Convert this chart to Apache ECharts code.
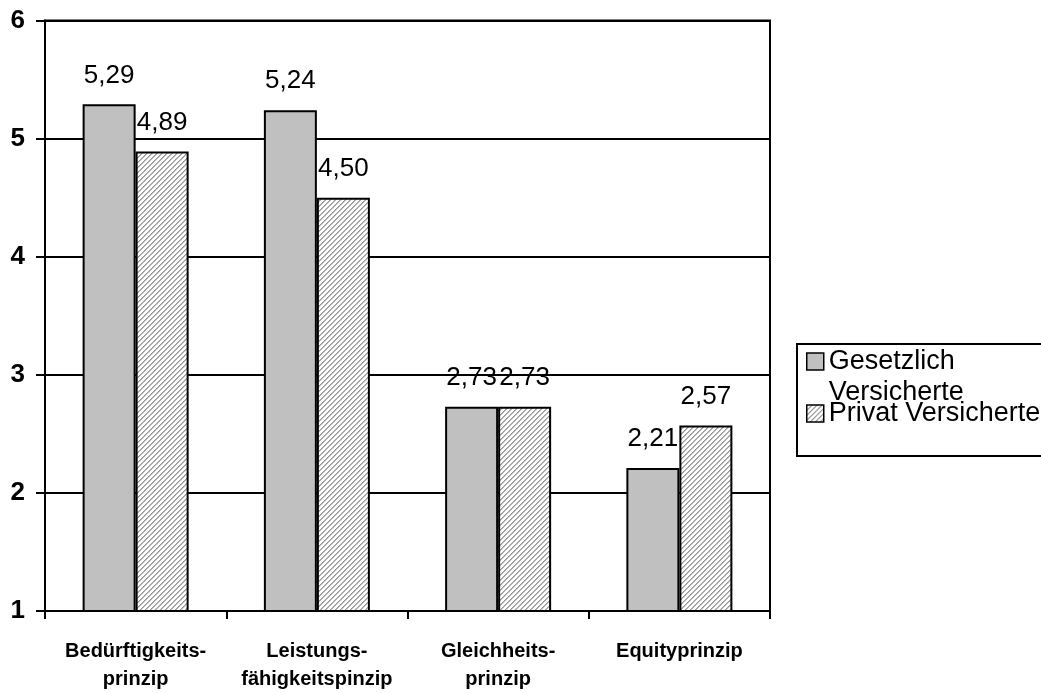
<!DOCTYPE html>
<html>
<head>
<meta charset="utf-8">
<script src="https://cdn.jsdelivr.net/npm/echarts@6/dist/echarts.min.js"></script>
<style>
  html, body { margin: 0; padding: 0; background: #fff; }
  #chart { width: 1041px; height: 693px; }
</style>
</head>
<body>
<div id="chart"></div>
<script>
// data
const categories = ['Bedürftigkeits-\nprinzip', 'Leistungs-\nfähigkeitspinzip', 'Gleichheits-\nprinzip', 'Equityprinzip']
const gesetzlich = [5.29, 5.24, 2.73, 2.21]
const privat = [4.89, 4.50, 2.73, 2.57]
const yTicks = { min: 1, max: 6, interval: 1 }

const FONT = '"Liberation Sans", Arial, sans-serif'

// diagonal hatch for the second series
const makeHatch = () => {
  const n = 5
  const c = document.createElement('canvas')
  c.width = n
  c.height = n
  const ctx = c.getContext('2d')
  ctx.fillStyle = '#ffffff'
  ctx.fillRect(0, 0, n, n)
  for (let i = 0; i < n; i++) {
    ctx.fillStyle = '#9a9a9a'
    ctx.fillRect(n - 1 - i, i, 1, 1)
    ctx.fillStyle = '#b8b8b8'
    ctx.fillRect((n - i) % n, i, 1, 1)
  }
  return c
}
const hatch = { image: makeHatch(), repeat: 'repeat' }

const fmt = p => p.value.toFixed(2).replace('.', ',')

const valueLabel = {
  show: true,
  position: 'top',
  distance: 16,
  color: '#000',
  fontFamily: FONT,
  fontSize: 26,
  formatter: fmt
}

const chart = echarts.init(document.getElementById('chart'))

chart.setOption({
  backgroundColor: '#fff',
  animation: false,
  grid: {
    left: 45,
    right: 271,
    top: 20.5,
    bottom: 80,
    show: true,
    borderColor: '#000',
    borderWidth: 2,
    backgroundColor: 'transparent'
  },
  legend: [
    {
      orient: 'vertical',
      left: 806,
      top: 315,
      padding: 0,
      icon: 'rect',
      itemWidth: 17,
      itemHeight: 17,
      data: ['Gesetzlich Versicherte'],
      // leading blank line keeps the first text line level with the icon
      formatter: () => '\nGesetzlich\nVersicherte',
      itemStyle: { borderColor: '#000', borderWidth: 1.5 },
      textStyle: { fontFamily: FONT, fontSize: 27, color: '#000', lineHeight: 31 }
    },
    {
      orient: 'vertical',
      left: 806,
      top: 398,
      padding: 0,
      icon: 'rect',
      itemWidth: 17,
      itemHeight: 17,
      data: ['Privat Versicherte'],
      itemStyle: { borderColor: '#000', borderWidth: 1.5 },
      textStyle: { fontFamily: FONT, fontSize: 27, color: '#000', lineHeight: 31 }
    }
  ],
  graphic: [
    {
      type: 'rect',
      shape: { x: 797, y: 344, width: 260, height: 112 },
      style: { fill: 'transparent', stroke: '#000', lineWidth: 2 }
    }
  ],
  xAxis: {
    type: 'category',
    data: categories,
    axisLine: { lineStyle: { color: '#000', width: 2 } },
    axisTick: { show: true, length: 8, lineStyle: { color: '#000', width: 2 } },
    axisLabel: {
      color: '#000',
      fontFamily: FONT,
      fontWeight: 'bold',
      fontSize: 20,
      lineHeight: 28,
      margin: 26,
      interval: 0
    }
  },
  yAxis: {
    type: 'value',
    min: yTicks.min,
    max: yTicks.max,
    interval: yTicks.interval,
    axisLine: { show: true, lineStyle: { color: '#000', width: 2 } },
    axisTick: { show: true, length: 9, lineStyle: { color: '#000', width: 2 } },
    axisLabel: {
      color: '#000',
      fontFamily: FONT,
      fontWeight: 'bold',
      fontSize: 26,
      margin: 20
    },
    splitLine: { show: true, lineStyle: { color: '#000', width: 2 } }
  },
  series: [
    {
      name: 'Gesetzlich Versicherte',
      type: 'bar',
      barWidth: 53,
      barGap: '0%',
      data: gesetzlich,
      itemStyle: { color: '#c0c0c0', borderColor: '#000', borderWidth: 2 },
      label: valueLabel
    },
    {
      name: 'Privat Versicherte',
      type: 'bar',
      barWidth: 53,
      barGap: '0%',
      data: privat,
      itemStyle: { color: hatch, borderColor: '#000', borderWidth: 2 },
      label: valueLabel
    }
  ]
})
</script>
</body>
</html>
